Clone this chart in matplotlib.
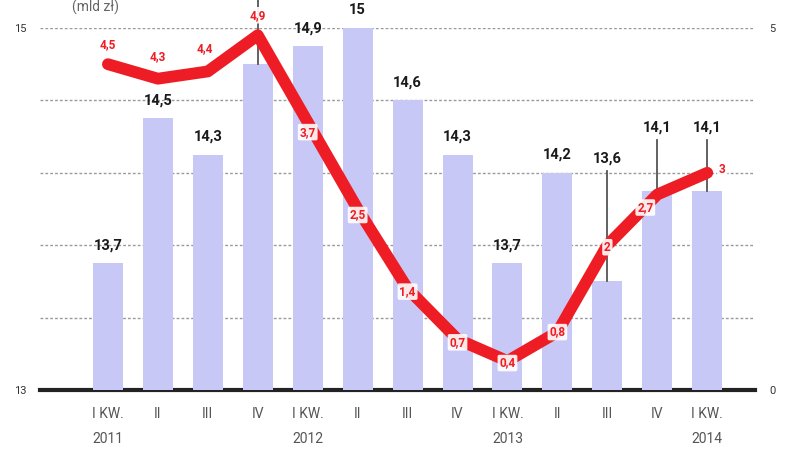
import numpy as np
import matplotlib.pyplot as plt

# data
quarters = ["I KW.", "II", "III", "IV", "I KW.", "II", "III", "IV",
            "I KW.", "II", "III", "IV", "I KW."]
years = {0: "2011", 4: "2012", 8: "2013", 12: "2014"}
bar_values = [13.7, 14.5, 14.3, 14.8, 14.9, 15.0, 14.6, 14.3, 13.7, 14.2, 13.6, 14.1, 14.1]
bar_labels = ["13,7", "14,5", "14,3", "", "14,9", "15", "14,6", "14,3",
              "13,7", "14,2", "13,6", "14,1", "14,1"]
line_values = [4.5, 4.3, 4.4, 4.9, 3.7, 2.5, 1.4, 0.7, 0.4, 0.8, 2.0, 2.7, 3.0]
line_labels = ["4,5", "4,3", "4,4", "4,9", "3,7", "2,5", "1,4", "0,7",
               "0,4", "0,8", "2", "2,7", "3"]

BAR = "#c8c8f6"
RED = "#ee1c24"
plt.rcParams['font.family'] = ['Roboto', 'DejaVu Sans']

fig = plt.figure(figsize=(8, 4.5), dpi=100)
ax = fig.add_axes([0.05, 0.1333, 0.894, 0.8045])
ax2 = ax.twinx()

x = np.arange(len(bar_values))

ax.set_xlim(-1.36, 12.96)
ax.set_ylim(13, 15)
ax2.set_ylim(0, 5)

# grid
for g in [13.4, 13.8, 14.2, 14.6, 15.0]:
    ax.axhline(g, color="#9a9a9a", lw=1, ls=(0, (2, 1.5)), zorder=0)
ax.axhline(13, color="#222222", lw=3, zorder=1, clip_on=False)

ax.bar(x, np.array(bar_values) - 13, bottom=13, width=0.6, color=BAR, zorder=2)

# bar labels, some raised with leader lines (IV 2011 label lies above the picture)
raised = {3: 15.3, 10: 14.28, 11: 14.45, 12: 14.45}
for i, (v, lab) in enumerate(zip(bar_values, bar_labels)):
    if i in raised:
        ly = raised[i]
        if lab:
            ax.annotate(lab, (i, ly), ha="center", va="center", fontsize=10.5,
                        fontweight="bold", color="#1a1a1a", zorder=6,
                        annotation_clip=False)
        ax.plot([i, i], [ly - 0.07, v], color="#555555", lw=1.3, zorder=3,
                clip_on=False)
    else:
        ax.annotate(lab, (i, v), xytext=(0, 18), textcoords="offset pixels",
                    ha="center", va="center", fontsize=10.5, fontweight="bold",
                    color="#1a1a1a", zorder=6, annotation_clip=False)

# red line
ax2.plot(x, line_values, color=RED, lw=8.5, solid_joinstyle="round",
         solid_capstyle="round", zorder=4)
offsets = [(0, 20), (0, 22), (-3, 23), (0, 20), (0, -10), (0, -6), (0, -3),
           (0, -3), (0, -2), (0, 0), (0, -2), (-12, -13), (15, 3)]
for i, (v, lab) in enumerate(zip(line_values, line_labels)):
    ax2.annotate(lab, (i, v), xytext=offsets[i], textcoords="offset pixels",
                 ha="center", va="center", fontsize=8.5, fontweight="bold",
                 color=RED, zorder=7, annotation_clip=False,
                 bbox=dict(boxstyle="round,pad=0.15", fc="white", ec="none", alpha=0.9))

# axes styling
for a in (ax, ax2):
    for s in a.spines.values():
        s.set_visible(False)
    a.tick_params(length=0)
ax.set_yticks([13, 15])
ax.set_yticklabels(["13", "15"], fontsize=8, color="#333333")
ax2.set_yticks([0, 5])
ax2.set_yticklabels(["0", "5"], fontsize=8, color="#333333")
ax.tick_params(axis="y", pad=10)
ax2.tick_params(axis="y", pad=10)

ax.set_xticks(x)
ax.set_xticklabels(quarters, fontsize=10, color="#555555")
ax.tick_params(axis="x", pad=12)
for i, yr in years.items():
    ax.text(i, -0.135, yr, transform=ax.get_xaxis_transform(), ha="center",
            va="center", fontsize=10, color="#555555")

fig.text(0.12, 0.983, "(mld zł)", ha="center", va="center", fontsize=10,
         color="#666666")

fig.savefig("out.png", dpi=100)
